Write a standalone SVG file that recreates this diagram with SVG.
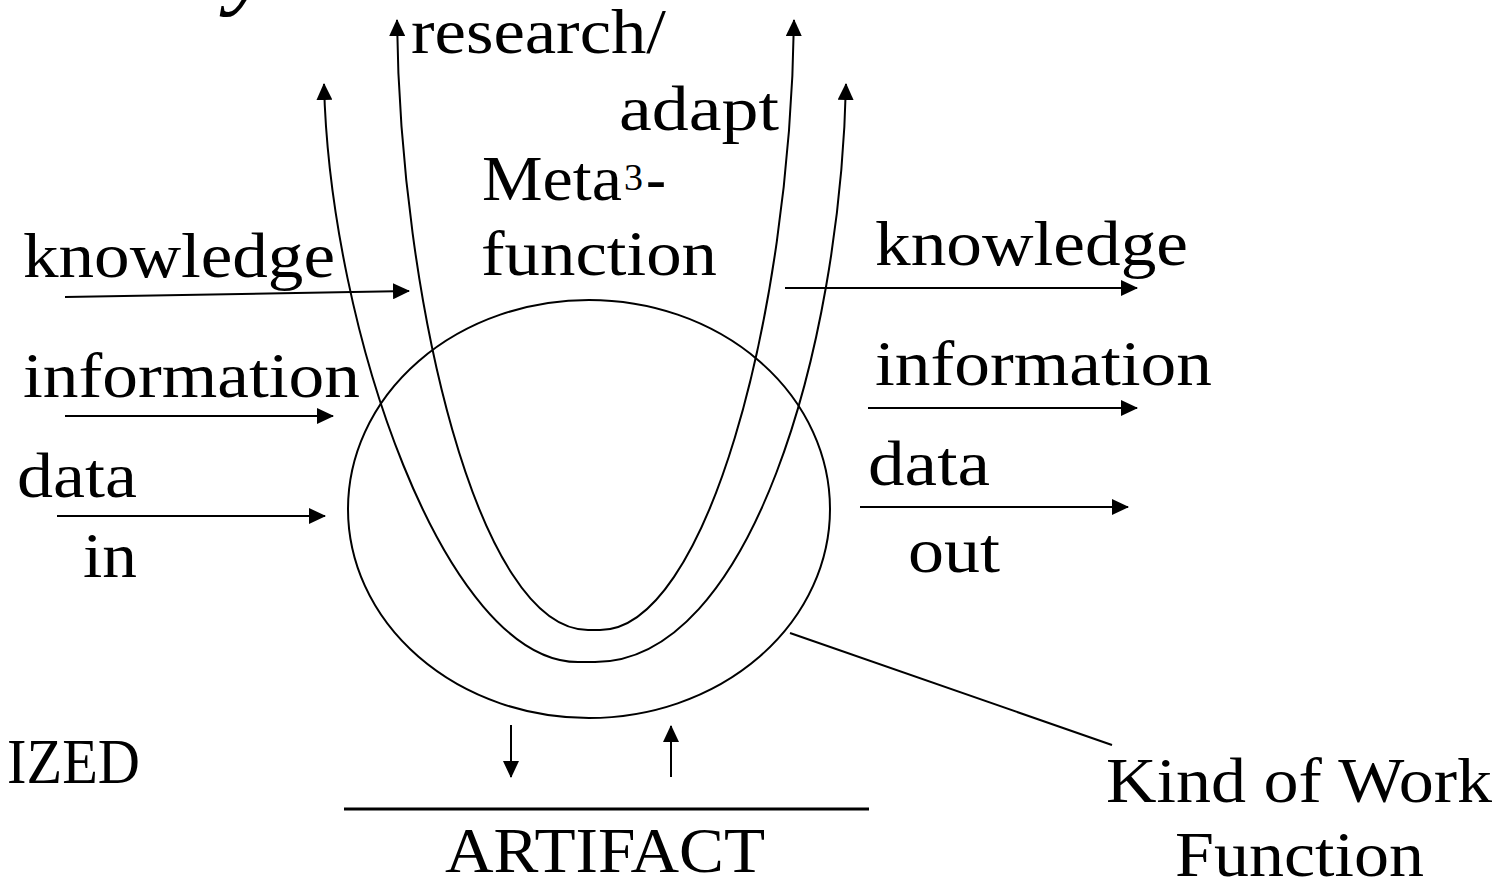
<svg xmlns="http://www.w3.org/2000/svg" width="1509" height="882" viewBox="0 0 1509 882">
<defs>
<marker id="ah" markerUnits="userSpaceOnUse" markerWidth="17" markerHeight="16" refX="16" refY="8" orient="auto"><path d="M0,0 L17,8 L0,16 z" fill="#000"/></marker>
<marker id="ahs" markerUnits="userSpaceOnUse" markerWidth="17" markerHeight="16" refX="16" refY="8" orient="auto-start-reverse"><path d="M0,0 L17,8 L0,16 z" fill="#000"/></marker>
<style>
text{font-family:"Liberation Serif","Times New Roman",serif;font-size:63px;fill:#000}
.ln{fill:none;stroke:#000;stroke-width:2}
.arr{fill:none;stroke:#000;stroke-width:2;marker-end:url(#ah)}
</style>
</defs>
<rect width="1509" height="882" fill="#fff"/>
<text x="228" y="-4" style="font-style:italic;font-size:100px">y</text>
<g id="work-function">
<ellipse cx="589" cy="509" rx="241" ry="209" class="ln"/>
</g>
<g id="connectors">
<path class="ln" d="M397,20 C400,300 478,630 588,630 L600,630 C705,630 790,320 794,20" marker-start="url(#ahs)" marker-end="url(#ah)"/>
<path class="ln" d="M324,84 C330,330 445,662 578,662 L595,662 C750,662 840,350 846,84" marker-start="url(#ahs)" marker-end="url(#ah)"/>
<path class="arr" d="M65,297 L409,291"/>
<path class="arr" d="M65,416 L333,416"/>
<path class="arr" d="M57,516 L325,516"/>
<path class="arr" d="M785,288 L1137,288"/>
<path class="arr" d="M868,408 L1137,408"/>
<path class="arr" d="M860,507 L1128,507"/>
<path class="arr" d="M511,725 L511,777"/>
<path class="arr" d="M671,777 L671,726"/>
<path class="ln" d="M790,633 L1112,745"/>
</g>
<g id="artifact">
<path d="M344,809 L869,809" stroke="#000" stroke-width="3"/>
<text x="445" y="872" textLength="320" lengthAdjust="spacingAndGlyphs">ARTIFACT</text>
</g>
<g id="meta-function">
<text x="411" y="53" textLength="255" lengthAdjust="spacingAndGlyphs">research/</text>
<text x="619" y="130" textLength="160" lengthAdjust="spacingAndGlyphs">adapt</text>
<text x="482" y="200" textLength="140" lengthAdjust="spacingAndGlyphs">Meta</text>
<text x="624" y="190" style="font-size:38px" textLength="19" lengthAdjust="spacingAndGlyphs">3</text>
<text x="646" y="200" textLength="20" lengthAdjust="spacingAndGlyphs">-</text>
<text x="481" y="275" textLength="236" lengthAdjust="spacingAndGlyphs">function</text>
</g>
<g id="inputs">
<text x="23" y="277" textLength="312" lengthAdjust="spacingAndGlyphs">knowledge</text>
<text x="23" y="397" textLength="337" lengthAdjust="spacingAndGlyphs">information</text>
<text x="17" y="497" textLength="120" lengthAdjust="spacingAndGlyphs">data</text>
<text x="83" y="577" textLength="54" lengthAdjust="spacingAndGlyphs">in</text>
</g>
<g id="outputs">
<text x="875" y="265" textLength="313" lengthAdjust="spacingAndGlyphs">knowledge</text>
<text x="875" y="385" textLength="337" lengthAdjust="spacingAndGlyphs">information</text>
<text x="868" y="485" textLength="122" lengthAdjust="spacingAndGlyphs">data</text>
<text x="908" y="572" textLength="92" lengthAdjust="spacingAndGlyphs">out</text>
</g>
<g id="kind-of-work">
<text x="1106" y="802" textLength="386" lengthAdjust="spacingAndGlyphs">Kind of Work</text>
<text x="1175" y="876" textLength="249" lengthAdjust="spacingAndGlyphs">Function</text>
</g>
<g id="ized">
<text x="7" y="783" textLength="133" lengthAdjust="spacingAndGlyphs">IZED</text>
</g>
</svg>
